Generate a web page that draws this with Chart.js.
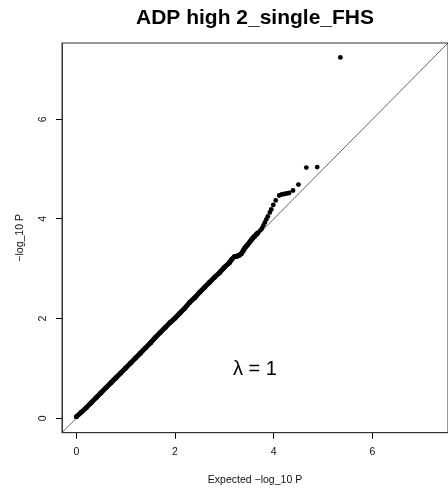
<!DOCTYPE html>
<html><head><meta charset="utf-8">
<script src="https://cdn.jsdelivr.net/npm/chart.js@4/dist/chart.umd.min.js"></script>
<style>html,body{margin:0;padding:0;background:#fff;overflow:hidden;}canvas{display:block;}</style>
</head><body>
<canvas id="c" width="452" height="491" style="width:452px;height:491px"></canvas>
<script>
// ---- data ----
const chartTitle = "ADP high 2_single_FHS";
const xAxisTitle = "Expected \u2212log_10 P";
const yAxisTitle = "\u2212log_10 P";
const tickValues = [0, 2, 4, 6];
const axisMin = -0.29;
const axisMax = 7.53;
// dense part of the QQ band
const bandExpected = [0.00,0.10,0.20,0.30,0.40,0.50,0.60,0.70,0.80,0.90,1.00,1.10,1.20,1.30,1.40,1.50,1.60,1.70,1.80,1.90,2.00,2.10,2.20,2.30,2.40,2.50,2.60,2.70,2.80,2.90,3.00,3.10,3.15,3.20,3.25,3.30,3.34,3.38,3.41,3.44,3.47,3.51,3.54,3.58,3.61,3.65,3.68];
const bandObserved = [0.03,0.12,0.21,0.31,0.41,0.51,0.61,0.71,0.81,0.91,1.01,1.11,1.21,1.31,1.41,1.51,1.62,1.72,1.82,1.92,2.01,2.11,2.21,2.33,2.42,2.53,2.63,2.73,2.83,2.92,3.03,3.12,3.19,3.24,3.25,3.27,3.30,3.36,3.41,3.45,3.48,3.53,3.57,3.62,3.65,3.69,3.72];
// sparse tail points
const tailExpected = [3.73,3.76,3.79,3.82,3.85,3.88,3.92,3.95,3.99,4.04,4.11,4.16,4.21,4.26,4.31,4.39,4.50,4.66,4.88,5.35];
const tailObserved = [3.77,3.81,3.87,3.93,3.99,4.05,4.13,4.19,4.28,4.37,4.47,4.49,4.50,4.51,4.52,4.57,4.69,5.03,5.04,7.24];
// reference line y = x
const refLineX = [-1, 9];
const lambdaText = "\u03BB = 1";

// ---- build chart ----
Chart.defaults.font.family = "'Liberation Sans', Arial, Helvetica, sans-serif";
Chart.defaults.color = "#000";

const toPts = (xs, ys) => xs.map((x, i) => ({x: x, y: ys[i]}));

const boxPlugin = {
  id: 'box',
  afterDraw(chart) {
    const {ctx, chartArea: a} = chart;
    ctx.save();
    ctx.strokeStyle = '#333';
    ctx.lineWidth = 1;
    ctx.strokeRect(a.left, a.top, a.right - a.left, a.bottom - a.top);
    ctx.restore();
  }
};
const lambdaPlugin = {
  id: 'lambda',
  afterDatasetsDraw(chart) {
    const {ctx, scales} = chart;
    const px = scales.x.getPixelForValue(3.62);
    const py = scales.y.getPixelForValue(0.98);
    ctx.save();
    ctx.fillStyle = '#000';
    ctx.font = "20px 'Liberation Sans', Arial, sans-serif";
    ctx.textAlign = 'center';
    ctx.textBaseline = 'middle';
    ctx.fillText(lambdaText, px, py);
    ctx.restore();
  }
};

new Chart(document.getElementById('c'), {
  type: 'scatter',
  data: {
    datasets: [
      {
        type: 'line',
        data: toPts(refLineX, refLineX),
        borderColor: '#666',
        borderWidth: 1,
        pointRadius: 0,
        fill: false,
        order: 3
      },
      {
        data: toPts(bandExpected, bandObserved),
        showLine: true,
        borderColor: '#000',
        borderWidth: 5,
        backgroundColor: '#000',
        pointRadius: 2.5,
        pointBorderWidth: 0,
        order: 1
      },
      {
        data: toPts(tailExpected, tailObserved),
        backgroundColor: '#000',
        pointRadius: 2.4,
        pointBorderWidth: 0,
        order: 1
      }
    ]
  },
  options: {
    responsive: false,
    animation: false,
    events: [],
    layout: {padding: 0},
    plugins: {
      legend: {display: false},
      tooltip: {enabled: false},
      title: {
        display: true,
        text: chartTitle,
        fullSize: false,
        font: {size: 21, weight: 'bold'},
        color: '#000',
        padding: {top: 5.9, bottom: 11.9}
      }
    },
    scales: {
      x: {
        type: 'linear',
        min: axisMin, max: axisMax,
        afterBuildTicks(s) { s.ticks = tickValues.map(v => ({value: v})); },
        afterFit(s) { s.height = 58.3; },
        grid: {display: true, drawOnChartArea: false, drawTicks: true, tickLength: 6, color: '#000'},
        border: {display: true, color: '#333'},
        ticks: {font: {size: 10.5}, color: '#111', padding: 7.3, maxRotation: 0, minRotation: 0},
        title: {display: true, text: xAxisTitle, font: {size: 10.5}, color: '#111', padding: {top: 0, bottom: 4.7}}
      },
      y: {
        type: 'linear',
        min: axisMin, max: axisMax,
        afterBuildTicks(s) { s.ticks = tickValues.map(v => ({value: v})); },
        afterFit(s) { s.width = 62; },
        grid: {display: true, drawOnChartArea: false, drawTicks: true, tickLength: 6, color: '#000'},
        border: {display: true, color: '#333'},
        ticks: {font: {size: 10.5}, color: '#111', padding: 9.8, minRotation: 90, maxRotation: 90, crossAlign: 'center'},
        title: {display: true, text: yAxisTitle, font: {size: 10.5}, color: '#111', padding: {top: 13.5, bottom: 0}}
      }
    }
  },
  plugins: [boxPlugin, lambdaPlugin]
});
</script>
</body></html>
